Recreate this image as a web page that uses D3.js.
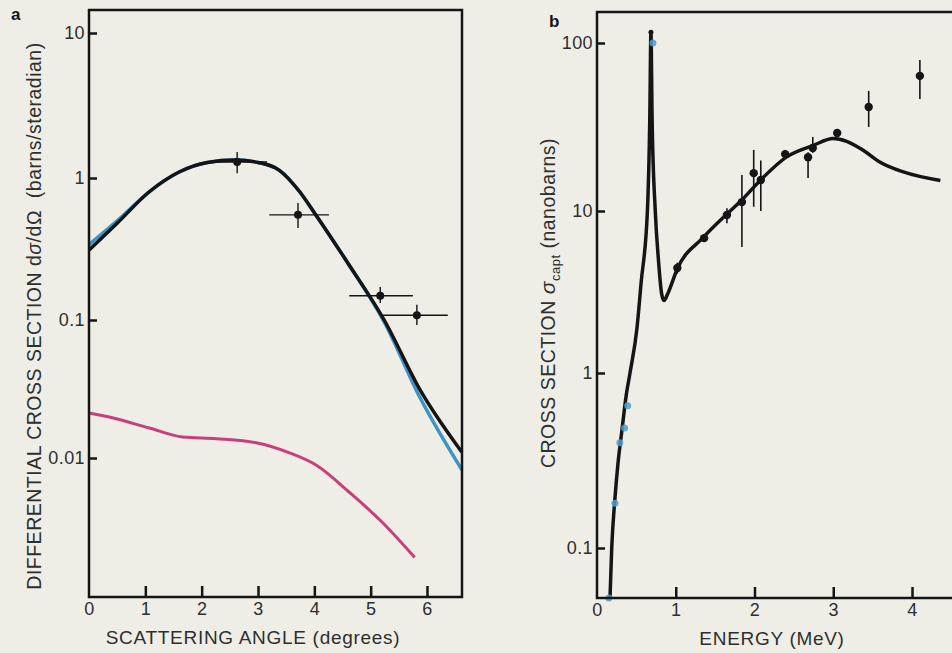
<!DOCTYPE html>
<html>
<head>
<meta charset="utf-8">
<script src="https://cdn.jsdelivr.net/npm/d3@7"></script>
<style>
  html, body { margin: 0; padding: 0; background: #eeeee7; }
  svg { display: block; font-family: "Liberation Sans", Arial, sans-serif; }
</style>
</head>
<body>
<div id="d3-container"></div>
<script>
// panel a : scattering angle
const angleTicks = [0, 1, 2, 3, 4, 5, 6];
const angleLabels = ["0", "1", "2", "3", "4", "5", "6"];
const xsecTicksA = [0.01, 0.1, 1, 10];
const xsecLabelsA = ["0.01", "0.1", "1", "10"];

const curveAngle = [0, 0.5, 1.07, 1.6, 2.1, 2.6, 3.0, 3.38, 3.74, 4.0, 4.6, 5.24, 5.88, 6.62];
const blackA = [0.31, 0.48, 0.80, 1.10, 1.28, 1.33, 1.28, 1.13, 0.80, 0.57, 0.25, 0.1, 0.031, 0.011];
const blueA = [0.34, 0.50, 0.80, 1.10, 1.28, 1.33, 1.28, 1.13, 0.80, 0.57, 0.25, 0.097, 0.0272, 0.0082];

const magentaAngle = [0, 0.36, 1.07, 1.66, 2.26, 2.97, 3.56, 4.03, 4.63, 5.21, 5.78];
const magentaA = [0.0212, 0.0198, 0.0165, 0.0142, 0.0138, 0.0129, 0.0109, 0.0089, 0.0056, 0.0034, 0.0019];

const ptAngle = [2.63, 3.71, 5.17, 5.82];
const ptAngleLo = [2.15, 3.20, 4.62, 5.22];
const ptAngleHi = [3.16, 4.26, 5.75, 6.37];
const ptA = [1.29, 0.55, 0.148, 0.108];
const ptALo = [1.08, 0.445, 0.132, 0.092];
const ptAHi = [1.51, 0.667, 0.171, 0.128];

// panel b : energy
const energyTicks = [0, 1, 2, 3, 4];
const energyLabels = ["0", "1", "2", "3", "4"];
const xsecTicksB = [0.1, 1, 10, 100];
const xsecLabelsB = ["0.1", "1", "10", "100"];

const curveEnergy = [0.165, 0.187, 0.229, 0.267, 0.317, 0.368, 0.419, 0.508, 0.56, 0.64, 0.67, 0.685, 0.70, 0.74, 0.78, 0.82, 0.85, 0.90, 1.02, 1.34, 1.64, 1.83, 2.06, 2.41, 2.74, 3.0, 3.17, 3.38, 3.59, 3.89, 4.36];
const captCurve = [0.052, 0.1, 0.195, 0.306, 0.472, 0.73, 1.0, 1.9, 3.6, 10, 35, 116, 35, 10, 5, 3.1, 2.8, 3.1, 4.4, 6.8, 9.5, 11.5, 15, 21, 24.5, 27, 26, 23, 19.6, 17.1, 15.2];

const ptEnergy = [0.685, 1.02, 1.36, 1.65, 1.84, 1.99, 2.08, 2.39, 2.68, 2.74, 3.05, 3.45, 4.10];
const ptCapt = [116, 4.45, 6.8, 9.45, 11.3, 16.8, 15.3, 21.8, 20.9, 23.7, 29.1, 41.6, 63.7];
const ptCaptLo = [116, 4.1, 6.5, 8.4, 6.0, 10.6, 10.0, 20.5, 15.7, 22.2, 28, 31.6, 46.4];
const ptCaptHi = [116, 4.8, 7.2, 10.4, 16.4, 23.1, 20.0, 23.1, 22.4, 27.6, 30, 51.9, 79.2];

const blueEnergy = [0.15, 0.229, 0.29, 0.35, 0.39, 0.71];
const blueCapt = [0.052, 0.18, 0.40, 0.485, 0.65, 100];

loadVisualizations = () => {
  const width = 952;
  const height = 653;
  const ink = "#151515";
  const textCol = "#2e2e2e";

  const svg = d3.select('#d3-container')
    .append('svg')
    .attr('width', width)
    .attr('height', height)
    .attr("viewBox", [0, 0, width, height]);

  svg.append("rect").attr("width", width).attr("height", height).attr("fill", "#eeeee7");

  const tickStyle = g => g
    .attr("font-size", "18px").attr("font-family", null)
    .attr("letter-spacing", "0.4px")
    .selectAll("text").attr("fill", textCol);

  // ---------- panel a ----------
  const xA = d3.scaleLinear().domain([0, 6]).range([89, 427]);
  // printed decades are not evenly spaced, so piecewise log
  const yA = d3.scaleLog()
    .domain([0.00098, 0.01, 0.1, 1, 10, 14.4])
    .range([597, 458, 320, 178, 33, 10]);

  const lineA = (xs, ys) => d3.line()
    .x((d, i) => xA(xs[i]))
    .y((d, i) => yA(ys[i]))
    .curve(d3.curveMonotoneX)(xs);

  svg.append("path").attr("d", lineA(magentaAngle, magentaA))
    .attr("fill", "none").attr("stroke", "#c93f78").attr("stroke-width", 3);
  svg.append("path").attr("d", lineA(curveAngle, blueA))
    .attr("fill", "none").attr("stroke", "#3f92c6").attr("stroke-width", 3.5);
  svg.append("path").attr("d", lineA(curveAngle, blackA))
    .attr("fill", "none").attr("stroke", ink).attr("stroke-width", 3.5);

  const gA = svg.append("g").attr("stroke", ink).attr("stroke-width", 1.4);
  gA.selectAll("line.h").data(ptAngle).join("line").attr("class", "h")
    .attr("x1", (d, i) => xA(ptAngleLo[i])).attr("x2", (d, i) => xA(ptAngleHi[i]))
    .attr("y1", (d, i) => yA(ptA[i])).attr("y2", (d, i) => yA(ptA[i]));
  gA.selectAll("line.v").data(ptAngle).join("line").attr("class", "v")
    .attr("x1", d => xA(d)).attr("x2", d => xA(d))
    .attr("y1", (d, i) => yA(ptALo[i])).attr("y2", (d, i) => yA(ptAHi[i]));
  svg.append("g").selectAll("circle").data(ptAngle).join("circle")
    .attr("cx", d => xA(d)).attr("cy", (d, i) => yA(ptA[i]))
    .attr("r", 4).attr("fill", ink);

  svg.append("rect").attr("x", 89).attr("y", 10).attr("width", 373).attr("height", 587)
    .attr("fill", "none").attr("stroke", ink).attr("stroke-width", 2.5);

  function xAxisA(g) {
    g.attr("transform", `translate(0,597)`)
      .call(d3.axisBottom(xA).tickValues(angleTicks).tickFormat((d, i) => angleLabels[i]).tickSize(-11).tickSizeOuter(0).tickPadding(5))
      .call(g => g.select(".domain").remove())
      .call(g => g.selectAll(".tick line").attr("stroke", ink).attr("stroke-width", 2.5))
      .call(g => g.selectAll(".tick").filter(d => d === 0).select("line").remove())
      .call(tickStyle);
  }
  function yAxisA(g) {
    g.attr("transform", `translate(89,0)`)
      .call(d3.axisLeft(yA).tickValues(xsecTicksA).tickFormat((d, i) => xsecLabelsA[i]).tickSize(-8).tickSizeOuter(0).tickPadding(4))
      .call(g => g.select(".domain").remove())
      .call(g => g.selectAll(".tick line").attr("stroke", ink).attr("stroke-width", 2.5))
      .call(tickStyle);
  }
  svg.append("g").call(xAxisA);
  svg.append("g").call(yAxisA);

  svg.append("text").attr("x", 253).attr("y", 644).attr("text-anchor", "middle")
    .attr("font-size", "19px").attr("letter-spacing", "0.7px").attr("fill", textCol)
    .text("SCATTERING ANGLE (degrees)");

  const tA = svg.append("text").attr("transform", "translate(41,316) rotate(-90)")
    .attr("text-anchor", "middle").attr("font-size", "19.5px").attr("letter-spacing", "0.5px")
    .attr("fill", textCol);
  tA.append("tspan").text("DIFFERENTIAL CROSS SECTION d");
  tA.append("tspan").attr("font-style", "italic").text("σ");
  tA.append("tspan").text("/dΩ\u00a0\u00a0(barns/steradian)");

  svg.append("text").attr("x", 11).attr("y", 20).attr("font-size", "17px")
    .attr("font-weight", "bold").attr("fill", ink).text("a");

  // ---------- panel b ----------
  const xB = d3.scaleLinear().domain([0, 4]).range([597, 912]);
  const yB = d3.scaleLog()
    .domain([0.052, 0.1, 1, 10, 100, 153])
    .range([598, 548, 373, 211, 43, 12]);

  svg.append("path")
    .attr("d", d3.line().x((d, i) => xB(curveEnergy[i])).y((d, i) => yB(captCurve[i]))
      .curve(d3.curveMonotoneX)(curveEnergy))
    .attr("fill", "none").attr("stroke", ink).attr("stroke-width", 3.5)
    .attr("stroke-linejoin", "round");

  svg.append("g").selectAll("line").data(ptEnergy).join("line")
    .attr("x1", d => xB(d)).attr("x2", d => xB(d))
    .attr("y1", (d, i) => yB(ptCaptLo[i])).attr("y2", (d, i) => yB(ptCaptHi[i]))
    .attr("stroke", ink).attr("stroke-width", 1.6);
  svg.append("g").selectAll("circle").data(ptEnergy).join("circle")
    .attr("cx", d => xB(d)).attr("cy", (d, i) => yB(ptCapt[i]))
    .attr("r", (d, i) => i === 0 ? 2.5 : 4.2).attr("fill", ink);

  svg.append("g").selectAll("circle").data(blueEnergy).join("circle")
    .attr("cx", d => xB(d)).attr("cy", (d, i) => yB(blueCapt[i]))
    .attr("r", 3.5).attr("fill", "#4f9fcf").attr("fill-opacity", 0.85);

  svg.append("rect").attr("x", 597).attr("y", 12).attr("width", 420).attr("height", 586)
    .attr("fill", "none").attr("stroke", ink).attr("stroke-width", 2.5);

  function xAxisB(g) {
    g.attr("transform", `translate(0,598)`)
      .call(d3.axisBottom(xB).tickValues(energyTicks).tickFormat((d, i) => energyLabels[i]).tickSize(-11).tickSizeOuter(0).tickPadding(5))
      .call(g => g.select(".domain").remove())
      .call(g => g.selectAll(".tick line").attr("stroke", ink).attr("stroke-width", 2.5))
      .call(g => g.selectAll(".tick").filter(d => d === 0).select("line").remove())
      .call(tickStyle);
  }
  function yAxisB(g) {
    g.attr("transform", `translate(597,0)`)
      .call(d3.axisLeft(yB).tickValues(xsecTicksB).tickFormat((d, i) => xsecLabelsB[i]).tickSize(-8).tickSizeOuter(0).tickPadding(4))
      .call(g => g.select(".domain").remove())
      .call(g => g.selectAll(".tick line").attr("stroke", ink).attr("stroke-width", 2.5))
      .call(tickStyle);
  }
  svg.append("g").call(xAxisB);
  svg.append("g").call(yAxisB);

  svg.append("text").attr("x", 772).attr("y", 645).attr("text-anchor", "middle")
    .attr("font-size", "19px").attr("letter-spacing", "0.7px").attr("fill", textCol)
    .text("ENERGY (MeV)");

  const tB = svg.append("text").attr("transform", "translate(555,303) rotate(-90)")
    .attr("text-anchor", "middle").attr("font-size", "19.5px").attr("letter-spacing", "0.5px")
    .attr("fill", textCol);
  tB.append("tspan").text("CROSS SECTION ");
  tB.append("tspan").attr("font-style", "italic").attr("font-size", "21px").text("σ");
  tB.append("tspan").attr("font-size", "13px").attr("dy", 5).text("capt");
  tB.append("tspan").attr("dy", -5).text(" (nanobarns)");

  svg.append("text").attr("x", 549).attr("y", 27).attr("font-size", "17px")
    .attr("font-weight", "bold").attr("fill", ink).text("b");

  svg.node();
};

window.onload = () => {
  loadVisualizations();
};
</script>
</body>
</html>
